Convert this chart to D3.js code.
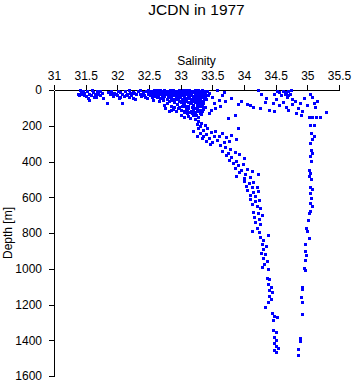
<!DOCTYPE html>
<html>
<head>
<meta charset="utf-8">
<script src="https://cdn.jsdelivr.net/npm/d3@7"></script>
<style>
  body { margin: 0; background: #fff; }
  text { font-family: "Liberation Sans", Arial, sans-serif; }
</style>
</head>
<body>
<div id="chart"></div>
<script>
// salinity / depth pairs, grouped by region
const surfaceLeft = [
  [31.38,20],[31.40,30],[31.42,10],[31.44,25],[31.46,5],[31.48,15],[31.50,35],[31.52,8],
  [31.53,45],[31.56,20],[31.58,30],[31.56,55],[31.62,12],[31.64,25],[31.66,40],[31.68,5],
  [31.70,20],[31.72,30],[31.75,15],[31.78,45],[31.84,72],[31.86,10],[31.88,25],[31.90,5],
  [31.93,35],[31.95,15],[31.98,20],[32.00,30],[32.02,45],[32.04,10],[32.07,72],[32.08,25],
  [32.10,35],[32.12,5],[32.15,20],[32.18,40],[32.20,15],[32.22,30],[32.25,10],[32.28,50],
  [32.30,25],[31.41,0],[31.47,28],[31.60,2],[31.63,38],[31.73,8],[31.92,22],[32.01,3],
  [32.05,38],[32.14,28],[32.19,2],[32.24,45],[32.27,18]
];

const surfaceMain = [
  [32.32,8],[32.35,20],[32.38,35],[32.40,12],[32.42,28],[32.45,5],[32.47,45],[32.50,18],
  [32.52,30],[32.55,10],[32.57,55],[32.60,22],[32.62,38],[32.64,8],[32.66,60],[32.68,15],
  [32.70,30],[32.72,45],[32.73,85],[32.75,5],[32.76,100],[32.78,25],[32.79,70],[32.80,40],
  [32.81,115],[32.82,12],[32.84,55],[32.85,90],[32.86,30],[32.88,105],[32.89,8],[32.90,65],
  [32.91,20],[32.92,120],[32.93,45],[32.94,80],[32.95,10],[32.96,35],[32.97,95],[32.98,60],
  [32.99,25],[33.00,110],[33.01,5],[33.02,50],[33.03,75],[33.04,15],[33.05,125],[33.06,40],
  [33.07,90],[33.08,20],[33.09,60],[33.10,130],[33.11,8],[33.12,100],[33.13,45],[33.14,70],
  [33.15,28],[33.16,115],[33.17,55],[33.18,12],[33.19,85],[33.20,140],[33.21,35],[33.22,100],
  [33.23,65],[33.24,18],[33.25,120],[33.26,45],[33.27,150],[33.28,80],[33.29,25],[33.30,110],
  [33.31,55],[33.32,135],[33.33,10],[33.34,90],[33.35,40],[33.36,70],[33.38,20],[33.40,50],
  [32.48,0],[32.58,2],[32.68,0],[32.78,3],[32.88,0],[32.98,2],[33.08,0],[33.18,3],
  [33.28,0],[33.38,5],[32.53,3],[32.63,1],[32.74,2],[32.83,0],[32.93,3],[33.03,0],
  [33.13,2],[33.23,0],[33.33,2],[33.05,150],[33.12,145],[33.15,155],[33.00,140],
  [32.36,2],[32.41,18],[32.44,38],[32.49,25],[32.51,10],[32.54,40],[32.56,20],[32.59,32],
  [32.61,12],[32.65,28],[32.67,45],[32.69,22],[32.71,12],[32.73,35],[32.77,15],[32.79,48],
  [32.81,28],[32.83,20],[32.85,42],[32.87,15],[32.89,30],[32.91,52],[32.92,32],[32.94,15],
  [32.96,50],[32.97,22],[32.99,40],[33.00,18],[33.02,30],[33.04,58],[33.05,35],[33.06,10],
  [33.08,45],[33.10,25],[33.11,68],[33.12,38],[33.14,20],[33.16,50],[33.17,30],[33.19,42],
  [33.20,10],[33.21,60],[33.22,25],[33.24,50],[33.26,32],[33.27,12],[33.28,62],[33.30,40],
  [33.31,20],[33.32,75],[33.34,30],[33.36,15],[33.37,50],[33.39,35],[33.41,8],[33.43,30],
  [33.18,95],[33.22,125],[33.25,100],[33.28,115],[33.30,90],[33.33,120],[33.35,105],[33.24,140],
  [33.10,110],[33.14,125],[33.08,100],[33.02,90],[32.96,100],[32.90,95],[32.84,110],
  [32.60,8],[32.70,6],[32.80,8],[32.90,6],[33.00,8],[33.10,6],[33.20,8],[33.30,6],
  [32.64,18],[32.74,20],[32.84,18],[32.94,22],[33.04,20],[33.14,18],[33.24,20],[33.34,18],
  [32.72,55],[32.82,62],[32.88,50],[33.00,65],[33.06,80],[33.16,75],[33.26,85],[33.36,60],
  [33.12,90],[33.20,110],[33.30,130],[33.38,95],[33.06,115],[33.18,130]
];

const surfaceMid = [
  [33.45,15],[33.50,40],[33.52,70],[33.58,0],[33.60,55],[33.62,90],[33.65,30],[33.68,10],
  [33.70,60],[33.74,157],[33.85,140],[33.90,215],[33.80,45],[33.90,80],[33.95,60],[34.05,80],
  [34.10,85],[34.15,95],[34.22,0],[34.27,20],[34.35,45],[34.40,110],[34.45,70],[34.48,25],
  [34.52,5],[34.25,100],[34.33,65],[33.48,110],[33.55,100],[33.45,130]
];

const mainBranch = [
  [33.22,160],[33.28,175],[33.25,190],[33.32,185],[33.30,200],[33.38,195],[33.27,215],[33.35,225],
  [33.42,210],[33.30,240],[33.40,245],[33.48,235],[33.36,260],[33.45,270],[33.52,255],[33.40,285],
  [33.50,290],[33.58,280],[33.46,300],[33.65,240],[33.72,265],[33.80,250],[33.88,275],
  [33.20,230],[33.26,255],[33.33,270],[33.55,230],[33.60,260],[33.68,290],[33.76,285],
  [33.62,310],[33.70,320],[33.78,330],[33.66,340],[33.74,350],[33.85,345],[33.72,365],[33.80,375],
  [33.92,360],[33.76,390],[33.88,395],[34.00,380],
  [33.82,410],[33.90,420],[33.98,415],[33.86,435],[33.95,445],[34.05,440],[33.92,460],[34.02,470],
  [34.12,455],[33.88,480],[34.00,490],[34.10,485],[34.22,470],
  [34.00,510],[34.08,520],[34.15,515],[34.03,535],[34.12,545],[34.20,540],[34.05,560],[34.14,570],
  [34.22,565],[34.10,590],[34.18,595],
  [34.10,610],[34.18,620],[34.24,615],[34.12,640],[34.20,650],[34.26,660],[34.15,680],[34.22,690],
  [34.16,710],[34.24,720],[34.28,700],[34.18,740],[34.26,750],[34.20,770],[34.12,790],[34.24,795],
  [34.38,810],
  [34.26,820],[34.30,840],[34.28,860],[34.34,870],[34.30,890],[34.27,910],[34.33,920],[34.30,940],
  [34.36,955],[34.32,975],[34.29,990],[34.38,1000],
  [34.36,1050],[34.40,1060],[34.38,1085],[34.42,1100],[34.39,1120],[34.44,1130],[34.40,1150],
  [34.43,1170],[34.38,1185],[34.33,1215],
  [34.44,1250],[34.47,1265],[34.52,1270],[34.45,1285],[34.46,1340],[34.50,1355],[34.48,1380],
  [34.51,1400],[34.47,1415],[34.50,1430],[34.53,1445],[34.48,1455],[34.51,1465]
];

const rightBranch = [
  [34.55,10],[34.58,30],[34.62,5],[34.65,20],[34.68,40],[34.70,8],[34.72,25],[34.74,0],
  [34.76,50],[34.62,65],[34.66,95],[34.70,110],[34.75,80],[34.80,60],[34.82,130],[34.85,100],
  [34.88,75],[34.90,140],[34.92,115],[34.95,45],[35.00,85],[35.05,20],[35.08,40],[35.10,75],
  [35.12,95],[35.15,60],[35.30,125],[34.48,120],[34.55,85],[34.50,50],[34.66,12],[34.70,30],
  [35.02,150],[35.08,150],[35.14,150],[35.20,150],[35.04,195],[35.10,195],[35.06,240],[35.10,255],
  [35.08,275],[35.05,295],[35.06,335],[35.08,350],[35.05,370],[35.06,395],[35.02,450],[35.05,465],
  [35.03,480],[35.06,500],[35.04,540],[35.07,555],[35.05,575],[35.06,605],[35.04,630],[35.07,650],
  [35.05,675],[35.03,690],[35.01,730],[34.98,770],[35.00,790],[35.02,828],[34.96,860],[34.97,900],
  [34.98,925],[34.97,950],[34.94,995],[34.96,1005],[34.91,1100],[34.92,1115],[34.90,1160],
  [34.91,1185],[34.92,1255],[34.88,1385],[34.89,1405],[34.85,1450],[34.86,1480]
];

const salinityTicks = [31, 31.5, 32, 32.5, 33, 33.5, 34, 34.5, 35, 35.5];
const depthTicks = [0, 200, 400, 600, 800, 1000, 1200, 1400, 1600];

const points = [].concat(surfaceLeft, surfaceMain, surfaceMid, mainBranch, rightBranch);

const width = 353, height = 384;
const margin = { top: 90, right: 14, bottom: 8, left: 54 };

const svg = d3.select("#chart")
  .append("svg")
  .attr("width", width)
  .attr("height", height);

const x = d3.scaleLinear()
  .domain([31, 35.5])
  .range([margin.left, width - margin.right]);

const y = d3.scaleLinear()
  .domain([0, 1600])
  .range([margin.top, height - margin.bottom]);

svg.append("text")
  .attr("x", (margin.left + width - margin.right) / 2)
  .attr("y", 15)
  .attr("text-anchor", "middle")
  .style("font-size", "15.5px")
  .text("JCDN in 1977");

svg.append("text")
  .attr("x", (margin.left + width - margin.right) / 2)
  .attr("y", 65)
  .attr("text-anchor", "middle")
  .style("font-size", "12px")
  .text("Salinity");

svg.append("text")
  .attr("transform", `translate(12, ${(margin.top + height - margin.bottom) / 2}) rotate(-90)`)
  .attr("text-anchor", "middle")
  .style("font-size", "12px")
  .text("Depth [m]");

const xAxis = svg.append("g")
  .attr("transform", `translate(0, ${margin.top})`)
  .call(d3.axisTop(x)
    .tickValues(salinityTicks)
    .tickFormat(d => String(d))
    .tickSize(5)
    .tickSizeOuter(0)
    .tickPadding(5));

const yAxis = svg.append("g")
  .attr("transform", `translate(${margin.left}, 0)`)
  .call(d3.axisLeft(y)
    .tickValues(depthTicks)
    .tickFormat(d => String(d))
    .tickSize(5)
    .tickSizeOuter(0)
    .tickPadding(7));

[xAxis, yAxis].forEach(g => {
  g.selectAll("text")
    .style("font-family", "'Liberation Sans', Arial, sans-serif")
    .style("font-size", "12px")
    .attr("fill", "#000");
  g.selectAll("line, path").attr("stroke", "#000").attr("shape-rendering", "crispEdges");
});

svg.append("g")
  .attr("shape-rendering", "crispEdges")
  .selectAll("rect")
  .data(points)
  .enter()
  .append("rect")
  .attr("x", d => Math.round(x(d[0])) - 1)
  .attr("y", d => Math.round(y(d[1])) - 1)
  .attr("width", 3)
  .attr("height", 3)
  .attr("fill", "#0000ff");
</script>
</body>
</html>
